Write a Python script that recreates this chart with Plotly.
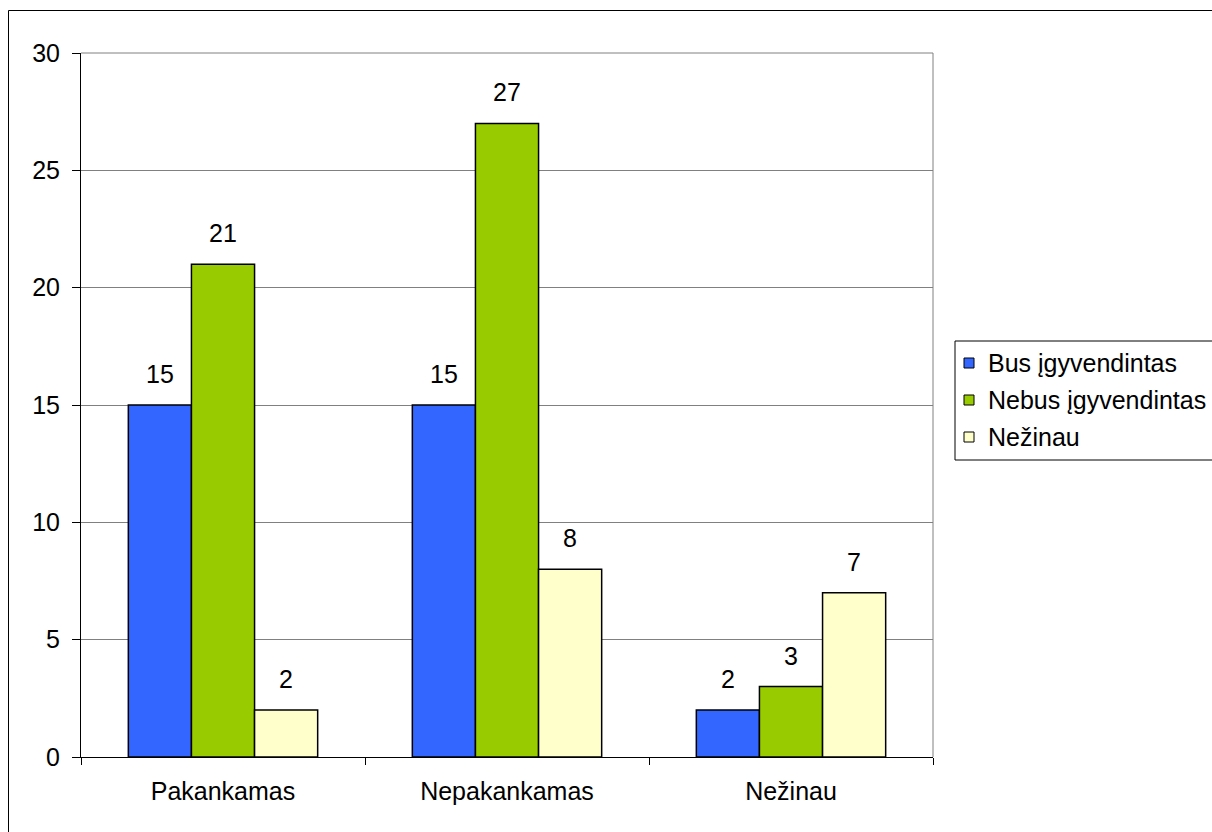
import plotly.graph_objects as go

categories = ["Pakankamas", "Nepakankamas", "Nežinau"]
bus = [15, 15, 2]
nebus = [21, 27, 3]
nezinau = [2, 8, 7]
series_names = ["Bus įgyvendintas", "Nebus įgyvendintas", "Nežinau"]
colors = ["#3366FF", "#99CC00", "#FFFFCC"]
y_ticks = [0, 5, 10, 15, 20, 25, 30]

W, H = 1212, 832
L, R, T, B = 81, 933, 53, 757  # plot area in pixels
FONT = "Liberation Sans, Arial, sans-serif"
FS = 25

fig = go.Figure()
all_series = [bus, nebus, nezinau]
for name, vals, col in zip(series_names, all_series, colors):
    fig.add_trace(go.Bar(
        x=categories, y=vals, name=name,
        marker=dict(color=col, line=dict(color="#000000", width=1.5)),
    ))

# value labels above each bar
bar_w = (2 / 3) / 3
for i, vals in enumerate(all_series):
    for j, v in enumerate(vals):
        fig.add_annotation(
            x=j + (i - 1) * bar_w, y=v, xref="x", yref="y",
            text=str(v), showarrow=False, yshift=31,
            font=dict(family=FONT, size=FS, color="#000000"),
        )

pw, ph = R - L, B - T
def px(x):
    return (x - L) / pw
def py(y):
    return (B - y) / ph

# gray top/right frame of the plot area
fig.add_shape(type="line", xref="paper", yref="paper", x0=0, x1=1, y0=1, y1=1,
              line=dict(color="#808080", width=1))
fig.add_shape(type="line", xref="paper", yref="paper", x0=1, x1=1, y0=0, y1=1,
              line=dict(color="#808080", width=1))
# outer chart border
fig.add_shape(type="rect", xref="paper", yref="paper",
              x0=px(8.5), x1=px(1230), y0=py(850), y1=py(10.5),
              line=dict(color="#000000", width=1), fillcolor="rgba(0,0,0,0)")

# legend box with swatches and series names
LG_X, LG_TOP, LG_ROW = 955, 341, 37
fig.add_shape(type="rect", xref="paper", yref="paper",
              x0=px(LG_X), x1=px(1230), y0=py(LG_TOP + 3 * LG_ROW + 8), y1=py(LG_TOP),
              line=dict(color="#000000", width=1), fillcolor="#FFFFFF")
for k, (name, col) in enumerate(zip(series_names, colors)):
    cy = LG_TOP + 22 + k * LG_ROW
    fig.add_shape(type="rect", xref="paper", yref="paper",
                  x0=px(LG_X + 9), x1=px(LG_X + 19), y0=py(cy + 5), y1=py(cy - 5),
                  line=dict(color="#000000", width=1), fillcolor=col)
    fig.add_annotation(x=px(LG_X + 31), y=py(cy), xref="paper", yref="paper",
                       text=name, showarrow=False, xanchor="left", yanchor="middle",
                       font=dict(family=FONT, size=FS, color="#000000"))

fig.update_layout(
    width=W, height=H,
    margin=dict(l=L, r=W - R, t=T, b=H - B, autoexpand=False),
    paper_bgcolor="#FFFFFF", plot_bgcolor="#FFFFFF",
    barmode="group", bargap=1 / 3, bargroupgap=0,
    font=dict(family=FONT, size=FS, color="#000000"),
    showlegend=False,
    xaxis=dict(
        type="category", showgrid=False, showline=True, linecolor="#000000", linewidth=1,
        ticks="outside", tickson="boundaries", ticklen=7, tickcolor="#000000",
        ticklabelstandoff=12, tickfont=dict(family=FONT, size=FS, color="#000000"),
        fixedrange=True,
    ),
    yaxis=dict(
        range=[0, 30], tickvals=y_ticks, showgrid=True, gridcolor="#808080", gridwidth=1,
        showline=True, linecolor="#000000", linewidth=1, zeroline=False,
        ticks="outside", ticklen=8, tickcolor="#000000",
        ticklabelstandoff=7, tickfont=dict(family=FONT, size=FS, color="#000000"),
        fixedrange=True,
    ),
)

fig.write_html("out.html")
